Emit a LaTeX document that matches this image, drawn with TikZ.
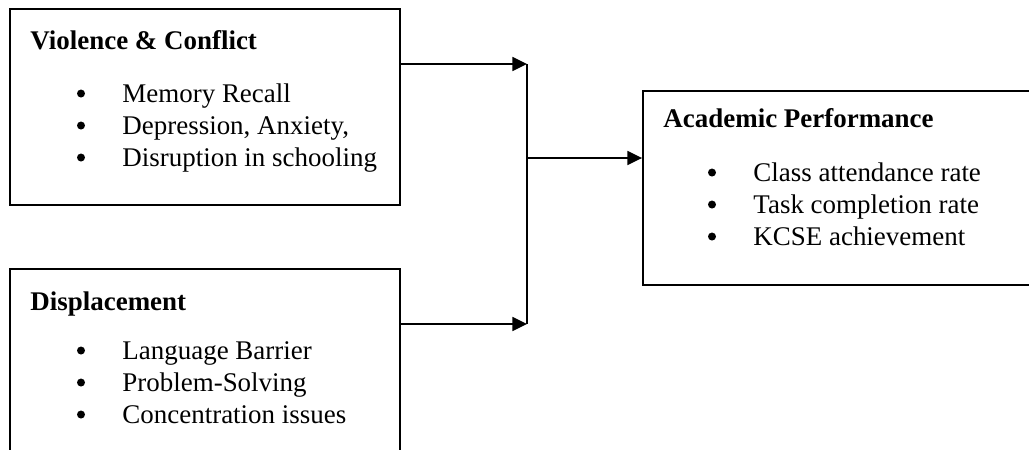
\documentclass[tikz,border=0pt]{standalone}
\usepackage{fontspec}
\setmainfont{Liberation Serif}
\usetikzlibrary{arrows.meta,positioning,fit,calc}
\tikzset{
  frame/.style={draw, rectangle, line width=0.8pt, inner sep=0pt},
  head/.style={font=\fontsize{11.5}{13.66}\selectfont\bfseries, anchor=base west, inner sep=0pt},
  itm/.style={font=\fontsize{11.5}{13.66}\selectfont, anchor=base west, inner sep=0pt},
  blt/.style={circle, fill, inner sep=0pt, minimum size=0.12cm, above=0.06cm},
  arr/.style={-{Triangle[length=2.2mm,width=2.1mm]}, line width=0.7pt},
  lne/.style={line width=0.7pt},
}
\begin{document}
\begin{tikzpicture}[x=0.015cm,y=-0.015cm]
\useasboundingbox (0,0) rectangle (1029,450);
\clip (0,0) rectangle (1029,450);
% boxes
\node[frame, fit={(10,9) (400,205)}] (vc) {};
\node[frame, fit={(10,269) (400,480)}] (dp) {};
\node[frame, fit={(643,91) (1045,285)}] (ap) {};
% violence & conflict
\node[head] (vct) at (30,49) {Violence \& Conflict};
\node[itm] (vci1) at (122,102) {Memory Recall};
\node[itm] (vci2) at (122,134) {Depression, Anxiety,};
\node[itm] (vci3) at (122,166) {Disruption in schooling};
\node[blt] (vcb1) at (81,102) {};
\node[blt] (vcb2) at (81,134) {};
\node[blt] (vcb3) at (81,166) {};
% displacement
\node[head] (dpt) at (30,310) {Displacement};
\node[itm] (dpi1) at (122,359) {Language Barrier};
\node[itm] (dpi2) at (122,391) {Problem-Solving};
\node[itm] (dpi3) at (122,423) {Concentration issues};
\node[blt] (dpb1) at (81,359) {};
\node[blt] (dpb2) at (81,391) {};
\node[blt] (dpb3) at (81,423) {};
% academic performance
\node[head] (apt) at (663,127) {Academic Performance};
\node[itm] (api1) at (753,181) {Class attendance rate};
\node[itm] (api2) at (753,213) {Task completion rate};
\node[itm] (api3) at (753,245) {KCSE achievement};
\node[blt] (apb1) at (712,181) {};
\node[blt] (apb2) at (712,213) {};
\node[blt] (apb3) at (712,245) {};
% connectors
\coordinate (jt) at (527,64);
\coordinate (jb) at (527,324);
\coordinate (jm) at (527,158);
\draw[arr] (vc.east |- jt) -- (jt);
\draw[arr] (dp.east |- jb) -- (jb);
\draw[lne] (jt) -- (jb);
\draw[arr] (jm) -- (ap.west |- jm);
\end{tikzpicture}
\end{document}
